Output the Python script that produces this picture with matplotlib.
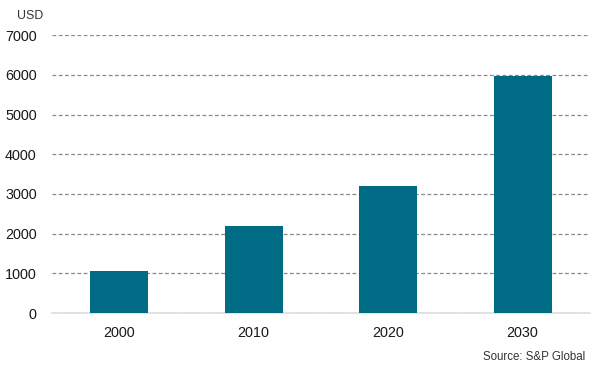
import matplotlib.pyplot as plt

# Chart values
years = ["2000", "2010", "2020", "2030"]
values = [1060, 2200, 3200, 5980]
y_ticks = [0, 1000, 2000, 3000, 4000, 5000, 6000, 7000]

plt.rcParams['font.family'] = ['Liberation Sans', 'DejaVu Sans']

fig = plt.figure(figsize=(5.97, 3.74), dpi=100)
ax = fig.add_axes([0.087, 0.163, 0.901, 0.743])

ax.bar(range(len(years)), values, width=0.43, color="#006B85", zorder=3)

ax.set_xlim(-0.5, len(years) - 0.5)
ax.set_ylim(0, 7000)
ax.set_yticks(y_ticks)
ax.set_xticks(range(len(years)))
ax.set_xticklabels(years)
ax.tick_params(axis="both", length=0, labelsize=10.4, colors="#1a1a1a")
ax.tick_params(axis="y", pad=11)
ax.tick_params(axis="x", pad=9)

ax.yaxis.grid(True, linestyle=(0, (3, 2)), color="#888888", linewidth=0.9, zorder=0)
for s in ["top", "right", "left"]:
    ax.spines[s].set_visible(False)
ax.spines["bottom"].set_color("#dddddd")
ax.spines["bottom"].set_linewidth(1.2)

fig.text(0.029, 0.958, "USD", fontsize=8.9, color="#333333", va="center")
fig.text(0.980, 0.045, "Source: S&P Global", fontsize=8.3, color="#333333", ha="right", va="center")

fig.savefig("out.png", dpi=100)
